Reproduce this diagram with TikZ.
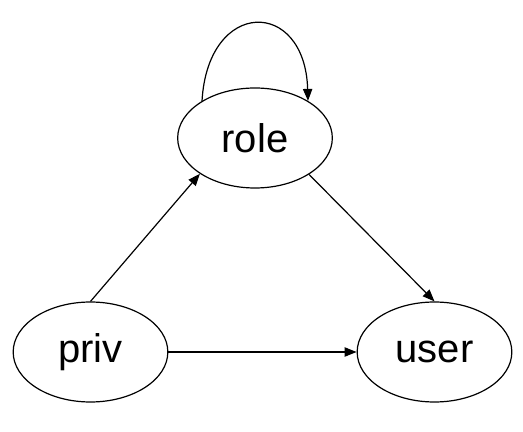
\documentclass[tikz,border=0pt]{standalone}
\usepackage{fontspec}
\setmainfont{Liberation Sans}
\usetikzlibrary{arrows.meta,shapes.geometric}
\begin{document}
\begin{tikzpicture}[x=0.75pt,y=0.75pt,
  state/.style={draw,ellipse,line width=0.9pt,minimum width=116pt,minimum height=75pt,inner sep=0pt,font=\fontsize{30}{36}\selectfont},
  conn/.style={line width=0.9pt,-{Triangle[length=9pt,width=7pt]}}]
\useasboundingbox (0,0) rectangle (523,431);
\node[state] (role) at (255,293) {role};
\node[state] (priv) at (90.5,79) {priv};
\node[state] (user) at (434.5,79) {user};
\draw[conn] (role.145) .. controls (208,433) and (305,433) .. (role.35);
\draw[conn] (priv.north) -- (role.213);
\draw[conn] (role.326) -- (user.north);
\draw[conn] (priv.east) -- (user.west);
\end{tikzpicture}
\end{document}
